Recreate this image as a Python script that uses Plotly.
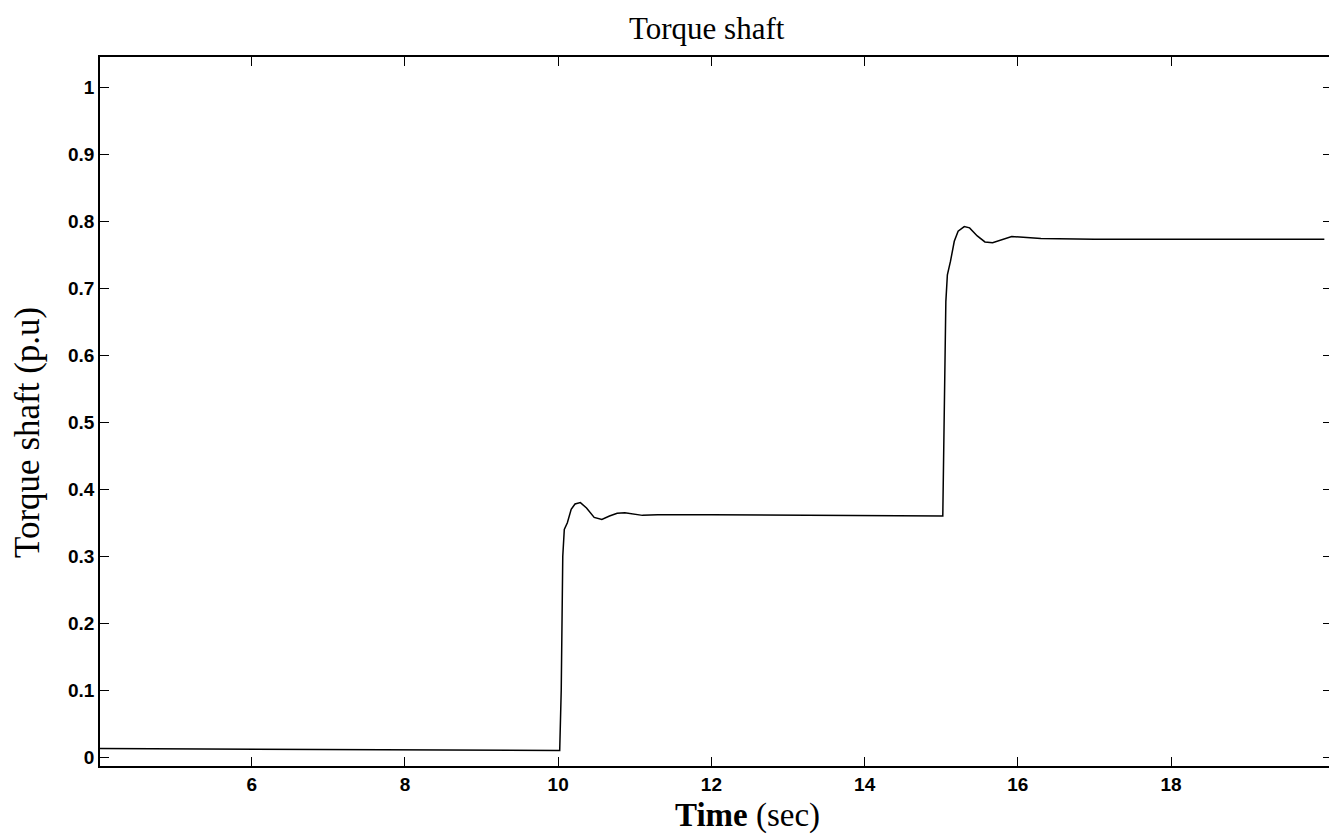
import plotly.graph_objects as go

time_s = [4.0, 9.0, 10.02, 10.04, 10.06, 10.08, 10.12, 10.17, 10.22, 10.29, 10.37, 10.47, 10.57,
          10.67, 10.77, 10.87, 10.97, 11.1, 11.3, 12.0, 15.02, 15.04, 15.06, 15.08, 15.12,
          15.17, 15.22, 15.3, 15.37, 15.47, 15.57, 15.67, 15.77, 15.92, 16.07, 16.3, 17.0, 20.0]
torque_pu = [0.013, 0.011, 0.010, 0.10, 0.30, 0.34, 0.35, 0.37, 0.378, 0.380, 0.372, 0.358,
             0.355, 0.360, 0.364, 0.365, 0.363, 0.361, 0.362, 0.362, 0.360, 0.55, 0.68, 0.72,
             0.74, 0.77, 0.785, 0.792, 0.790, 0.778, 0.769, 0.768, 0.772, 0.777, 0.776, 0.774,
             0.773, 0.773]
x_ticks = [6, 8, 10, 12, 14, 16, 18]
y_ticks = [0, 0.1, 0.2, 0.3, 0.4, 0.5, 0.6, 0.7, 0.8, 0.9, 1]

W, H = 1337, 840
OFF = 7  # page offset of the figure in the screenshot
# target plot area in screenshot pixels
left, top, right, bottom = 99, 56, 1331, 765
pl, pt = left - OFF, top - OFF
pr, pb = W - (right - OFF), H - (bottom - OFF)
pw, ph = W - pl - pr, H - pt - pb
def px_x(x): return (x - OFF - pl) / pw
def px_y(y): return (H - pb - (y - OFF)) / ph

fig = go.Figure()
fig.add_trace(go.Scatter(x=time_s, y=torque_pu, mode="lines",
                         line=dict(color="black", width=1.5), showlegend=False))

tickfont = dict(family="Liberation Sans", size=19, color="black")
fig.update_layout(
    width=W, height=H,
    margin=dict(l=pl, r=pr, t=pt, b=pb),
    paper_bgcolor="white", plot_bgcolor="white",
    xaxis=dict(range=[4.02, 20.1], tickvals=x_ticks, ticktext=[f"<b>{v}</b>" for v in x_ticks],
               ticks="inside", ticklen=9, tickwidth=1.2, tickcolor="black",
               showline=True, linecolor="black", linewidth=1.5, mirror="ticks",
               showgrid=False, zeroline=False, tickfont=tickfont, automargin=False),
    yaxis=dict(range=[-0.013, 1.045], tickvals=y_ticks,
               ticktext=[f"<b>{v:g}</b>" for v in y_ticks],
               ticks="inside", ticklen=9, tickwidth=1.2, tickcolor="black",
               showline=True, linecolor="black", linewidth=1.5, mirror="ticks",
               showgrid=False, zeroline=False, tickfont=tickfont, automargin=False),
)
fig.add_annotation(text="Torque shaft", x=px_x(706), y=px_y(OFF + 1), xref="paper", yref="paper",
                   showarrow=False, xanchor="center", yanchor="top",
                   font=dict(family="Liberation Serif", size=31, color="black"))
fig.add_annotation(text="<b>Time</b> (sec)", x=px_x(746), y=px_y(814), xref="paper", yref="paper",
                   showarrow=False, xanchor="center", yanchor="middle",
                   font=dict(family="Liberation Serif", size=33, color="black"))
fig.add_annotation(text="Torque shaft (p.u)", x=px_x(26), y=px_y(432), xref="paper", yref="paper",
                   showarrow=False, xanchor="center", yanchor="middle", textangle=-90,
                   font=dict(family="Liberation Serif", size=35, color="black"))

fig.write_html("out.html")
